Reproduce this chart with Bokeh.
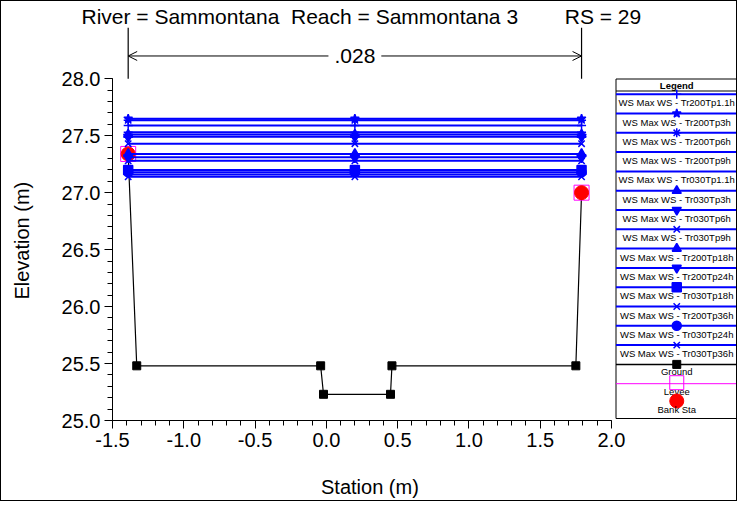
from bokeh.plotting import figure
from bokeh.models import Range1d, FixedTicker, PrintfTickFormatter, Arrow, OpenHead, Label
from bokeh.core.properties import value
from bokeh.embed import file_html
from bokeh.resources import INLINE

# ---------------- data ----------------
ground_sta = [-1.39, -1.33, -0.04, -0.02, 0.45, 0.46, 1.75, 1.79]
ground_elev = [27.34, 25.48, 25.48, 25.23, 25.23, 25.48, 25.48, 27.00]

bank_sta = [-1.39, 1.79]
bank_elev = [27.34, 27.00]

levee_sta = [-1.39, 1.79]
levee_elev = [27.34, 27.00]

ws_sta = [-1.39, 0.20, 1.79]
ws_names = ["Tr200Tp1.1h", "Tr200Tp3h", "Tr200Tp6h", "Tr200Tp9h", "Tr030Tp1.1h",
            "Tr030Tp3h", "Tr030Tp6h", "Tr030Tp9h", "Tr200Tp18h", "Tr200Tp24h",
            "Tr030Tp18h", "Tr200Tp36h", "Tr030Tp24h", "Tr030Tp36h"]
ws_elev = [27.59, 27.65, 27.635, 27.53, 27.16,
           27.34, 27.31, 27.28, 27.51, 27.49,
           27.20, 27.43, 27.18, 27.14]
ws_markers = ["cross", "star", "asterisk", "dash", "dash",
              "triangle", "inverted_triangle", "x", "triangle", "inverted_triangle",
              "square", "x", "circle", "x"]

manning_n = ".028"
title_parts = ["River = Sammontana", "Reach = Sammontana 3", "RS = 29"]
x_label = "Station (m)"
y_label = "Elevation (m)"
x_ticks = [-1.5, -1.0, -0.5, 0.0, 0.5, 1.0, 1.5, 2.0]
y_ticks = [25.0, 25.5, 26.0, 26.5, 27.0, 27.5, 28.0]

FONT = "Liberation Sans"
BLUE = "#0000ff"
NB = "\u00a0"

# ---------------- layout constants (pixels) ----------------
W, H = 737, 501
FL, FR, FT, FB = 111, 737, 26, 419          # frame edges on the canvas
AX_X0, AX_X1 = -1.5, 2.0                    # axis extent
AX_PX_RIGHT = 610                           # canvas x of station 2.0
kx = (AX_PX_RIGHT - FL) / (AX_X1 - AX_X0)
x_end = AX_X0 + (FR - FL) / kx

title_text = title_parts[0] + NB * 2 + title_parts[1] + NB * 8 + title_parts[2]

p = figure(width=W, height=H, output_backend="svg", toolbar_location=None,
           title=title_text,
           x_range=Range1d(AX_X0, x_end), y_range=Range1d(25.0, 28.45),
           min_border_left=FL, min_border_right=W - FR, min_border_top=FT, min_border_bottom=H - FB)
p.styles = {"border": "1px solid black"}
p.outline_line_color = None
p.grid.visible = False
p.title.align = "left"
p.title.offset = -31
p.title.standoff = 0
p.title.text_font = FONT
p.title.text_font_size = "21px"
p.title.text_font_style = "normal"
p.title.text_color = "black"

# pixel-space ranges for the legend box
p.extra_x_ranges = {"px": Range1d(FL, FR)}
p.extra_y_ranges = {"py": Range1d(FB, FT)}

x_minor = [round(-1.5 + 0.1 * k, 2) for k in range(36)]
y_minor = [round(25.0 + 0.1 * k, 2) for k in range(31)]
p.xaxis.ticker = FixedTicker(ticks=x_ticks, minor_ticks=x_minor)
p.yaxis.ticker = FixedTicker(ticks=y_ticks, minor_ticks=y_minor)
p.xaxis.bounds = (AX_X0, AX_X1)
p.yaxis.bounds = (25.0, 28.0)
p.axis.formatter = PrintfTickFormatter(format="%.1f")
for ax in (p.xaxis[0], p.yaxis[0]):
    ax.major_tick_out = 8
    ax.major_tick_in = 0
    ax.minor_tick_out = 5
    ax.minor_tick_in = 0
    ax.axis_line_color = "black"
    ax.major_tick_line_color = "black"
    ax.minor_tick_line_color = "black"
    ax.major_label_text_font = FONT
    ax.major_label_text_font_size = "20px"
    ax.major_label_text_color = "black"
    ax.axis_label_text_font = FONT
    ax.axis_label_text_font_size = "20px"
    ax.axis_label_text_font_style = "normal"
    ax.axis_label_text_color = "black"
    ax.major_label_standoff = 4
# trailing no-break spaces shift the centred labels to sit under the axis extent
p.xaxis.axis_label = x_label + NB * 20
p.yaxis.axis_label = y_label + NB * 6
p.xaxis.axis_label_standoff = 26
p.yaxis.axis_label_standoff = 26

# ground
p.line(ground_sta, ground_elev, line_color="black", line_width=1.2)
p.scatter(ground_sta, ground_elev, marker="square", size=8, color="black")
# levee
p.scatter(levee_sta, levee_elev, marker="square", size=15, fill_color=None,
          line_color="magenta", line_width=1)
# bank stations
p.scatter(bank_sta, bank_elev, marker="circle", size=14, color="red")
# water surfaces
for e, m in zip(ws_elev, ws_markers):
    ys = [e] * len(ws_sta)
    p.line(ws_sta, ys, line_color=BLUE, line_width=2)
    p.scatter(ws_sta, ys, marker=m, size=9, fill_color=BLUE, line_color=BLUE, line_width=1.5)

# Manning's n annotation above the axis
y_top = 28.45
y_arrow = 28.20
p.segment(x0=bank_sta, x1=bank_sta, y0=[28.0, 28.0], y1=[y_top, y_top],
          line_color="black", line_width=1.2)
p.add_layout(Arrow(x_start=bank_sta[0], y_start=y_arrow, x_end=bank_sta[1], y_end=y_arrow,
                   start=OpenHead(size=9, line_width=1), end=OpenHead(size=9, line_width=1),
                   line_color="black", line_width=1))
p.add_layout(Label(x=(bank_sta[0] + bank_sta[1]) / 2, y=y_arrow, text=manning_n,
                   text_align="center", text_baseline="middle", text_font=FONT,
                   text_font_size="21px", text_color="black",
                   background_fill_color="white", padding=6))

# ---------------- legend (pixel space) ----------------
BL, BR, BT, BB = 614.5, 736.0, 77.5, 417.0
cx = (BL + BR) / 2
step = 19.3
y0 = BT + 15.2
FS = "9.5px"
R = dict(x_range_name="px", y_range_name="py")

p.quad(left=[BL], right=[BR], top=[BT], bottom=[BB], fill_color="white",
       line_color="black", line_width=1, **R)
p.text(x=[cx], y=[BT + 6], text=["Legend"], text_align="center", text_baseline="middle",
       text_font=value(FONT), text_font_size=FS, text_font_style="bold", text_color="black", **R)
p.segment(x0=[BL], x1=[BR], y0=[BT + 12], y1=[BT + 12], line_color="black", line_width=1, **R)

for i, (name, m) in enumerate(zip(ws_names, ws_markers)):
    yy = y0 + step * i
    p.segment(x0=[BL], x1=[BR], y0=[yy], y1=[yy], line_color=BLUE, line_width=2, **R)
    if m != "dash":
        p.scatter(x=[cx], y=[yy], marker=m, size=9, fill_color=BLUE, line_color=BLUE,
                  line_width=1.5, **R)
    p.text(x=[cx], y=[yy + 8.5], text=["WS Max WS - " + name], text_align="center",
           text_baseline="middle", text_font=value(FONT), text_font_size=FS,
           text_color="black", **R)

n = len(ws_names)
# Ground
yy = y0 + step * n
p.segment(x0=[BL], x1=[BR], y0=[yy], y1=[yy], line_color="black", line_width=1.5, **R)
p.scatter(x=[cx], y=[yy], marker="square", size=8, color="black", **R)
p.text(x=[cx], y=[yy + 7.5], text=["Ground"], text_align="center", text_baseline="middle",
       text_font=value(FONT), text_font_size=FS, text_color="black", **R)
# Levee
yy = y0 + step * (n + 1)
p.segment(x0=[BL], x1=[BR], y0=[yy], y1=[yy], line_color="magenta", line_width=1, **R)
p.scatter(x=[cx], y=[yy - 1], marker="square", size=14, fill_color=None,
          line_color="magenta", line_width=1, **R)
p.text(x=[cx], y=[yy + 8], text=["Levee"], text_align="center", text_baseline="middle",
       text_font=value(FONT), text_font_size=FS, text_color="black", **R)
# Bank Sta
yy = y0 + step * (n + 2)
p.scatter(x=[cx], y=[yy - 2], marker="circle", size=14, color="red", **R)
p.text(x=[cx], y=[yy + 6], text=["Bank Sta"], text_align="center", text_baseline="middle",
       text_font=value(FONT), text_font_size=FS, text_color="black", **R)

open("out.html", "w").write(file_html(p, INLINE))
